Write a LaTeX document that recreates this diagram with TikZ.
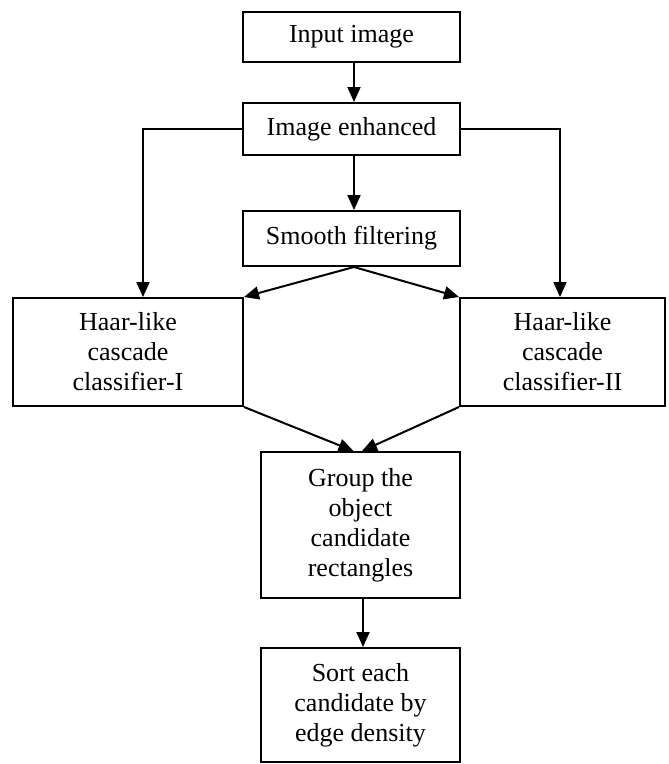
\documentclass[tikz,border=0pt]{standalone}
\usepackage{fontspec}
\setmainfont{Liberation Serif}
\usetikzlibrary{arrows.meta}
\begin{document}
\begin{tikzpicture}[x=1pt,y=-1pt,
  box/.style={draw=black,line width=2pt,align=center,inner sep=0pt,
    font=\fontsize{26}{30}\selectfont,fill=white},
  arr/.style={line width=2pt,-{Triangle[length=15pt,width=13pt]}}]
\useasboundingbox (0,0) rectangle (669,764);
\node[box,minimum width=217pt,minimum height=50pt] (in) at (351.5,37) {Input image};
\node[box,minimum width=217pt,minimum height=52pt] (enh) at (351.5,129) {Image enhanced};
\node[box,minimum width=217pt,minimum height=55pt] (sm) at (351.5,238.5) {Smooth filtering};
\node[box,minimum width=230pt,minimum height=108pt] (h1) at (128,352) {Haar-like\\cascade\\classifier-I};
\node[box,minimum width=205pt,minimum height=108pt] (h2) at (562.5,352) {Haar-like\\cascade\\classifier-II};
\node[box,minimum width=199pt,minimum height=146pt] (grp) at (360.5,525) {Group the\\object\\candidate\\rectangles};
\node[box,minimum width=199pt,minimum height=114pt] (srt) at (360.5,705) {Sort each\\candidate by\\edge density};
\draw[arr] ([xshift=2.5pt]in.south) -- ([xshift=2.5pt]enh.north);
\draw[arr] ([xshift=2.5pt]enh.south) -- ([xshift=2.5pt]sm.north);
\draw[arr] (enh.west) -| ([xshift=15pt]h1.north);
\draw[arr] (enh.east) -| ([xshift=-2.5pt]h2.north);
\draw[arr] ([xshift=2.5pt]sm.south) -- (h1.north east);
\draw[arr] ([xshift=2.5pt]sm.south) -- (h2.north west);
\draw[arr] (h1.south east) -- ([xshift=-7pt]grp.north);
\draw[arr] (h2.south west) -- ([xshift=1.5pt]grp.north);
\draw[arr] ([xshift=2.5pt]grp.south) -- ([xshift=2.5pt]srt.north);
\end{tikzpicture}
\end{document}
